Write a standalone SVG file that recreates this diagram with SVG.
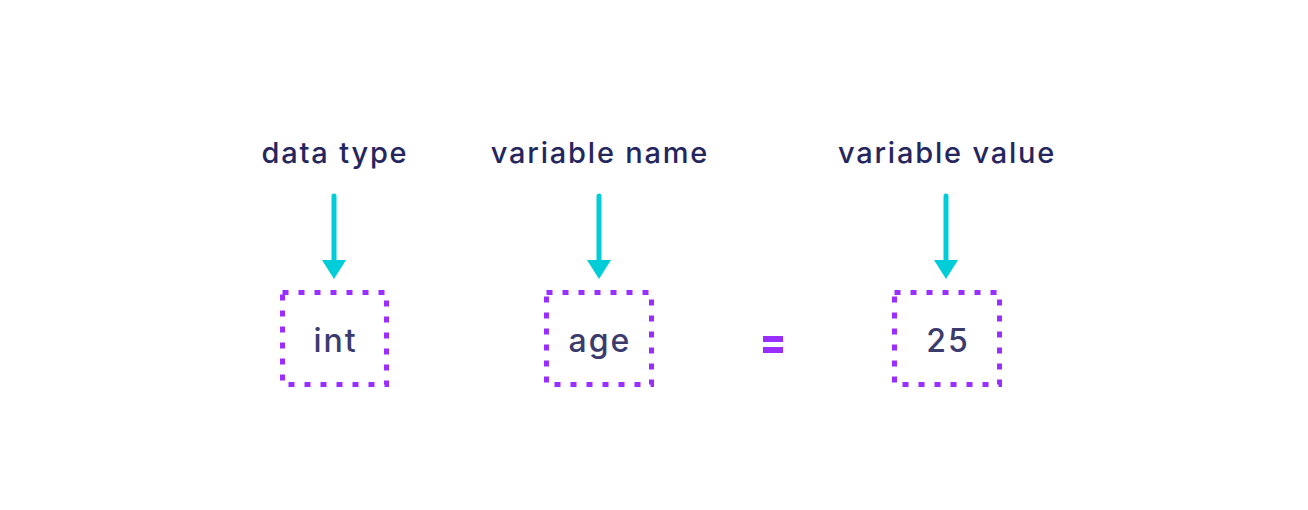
<svg xmlns="http://www.w3.org/2000/svg" width="1308" height="510" viewBox="0 0 1308 510">
<style>
.lbl{font-family:Inter,"Noto Sans",sans-serif;font-size:29px;font-weight:500;fill:#25265e;text-anchor:middle;letter-spacing:1.8px}
.val{font-family:Inter,"Noto Sans",sans-serif;font-size:32px;font-weight:500;fill:#3c3b6e;text-anchor:middle;letter-spacing:2px}
.box{fill:none;stroke:#9a2efe;stroke-width:5;stroke-dasharray:6 10}
.arr{stroke:#00cdd7;stroke-width:5;stroke-linecap:round;fill:none}
.head{fill:#00cdd7}
</style>
<rect width="1308" height="510" fill="#ffffff"/>
<g id="label-datatype"><text class="lbl" x="335" y="163">data type</text></g>
<g id="label-varname"><text class="lbl" x="600" y="163">variable name</text></g>
<g id="label-varvalue"><text class="lbl" x="947" y="163">variable value</text></g>
<g id="connectors">
<line class="arr" x1="334" y1="196" x2="334" y2="262"/><polygon class="head" points="322,260 346,260 334,279"/>
<line class="arr" x1="599" y1="196" x2="599" y2="262"/><polygon class="head" points="587,260 611,260 599,279"/>
<line class="arr" x1="946" y1="196" x2="946" y2="262"/><polygon class="head" points="934,260 958,260 946,279"/>
</g>
<g id="node-int"><rect class="box" x="282.5" y="292.5" width="104" height="92"/><text class="val" x="335.5" y="352">int</text></g>
<g id="node-age"><rect class="box" x="546.5" y="292.5" width="105" height="92"/><text class="val" x="600" y="352">age</text></g>
<g id="equals"><rect x="763" y="336" width="20" height="6" fill="#9a2efe"/><rect x="763" y="347" width="20" height="6" fill="#9a2efe"/></g>
<g id="node-25"><rect class="box" x="894.5" y="292.5" width="105" height="92"/><text class="val" x="948" y="352">25</text></g>
</svg>
